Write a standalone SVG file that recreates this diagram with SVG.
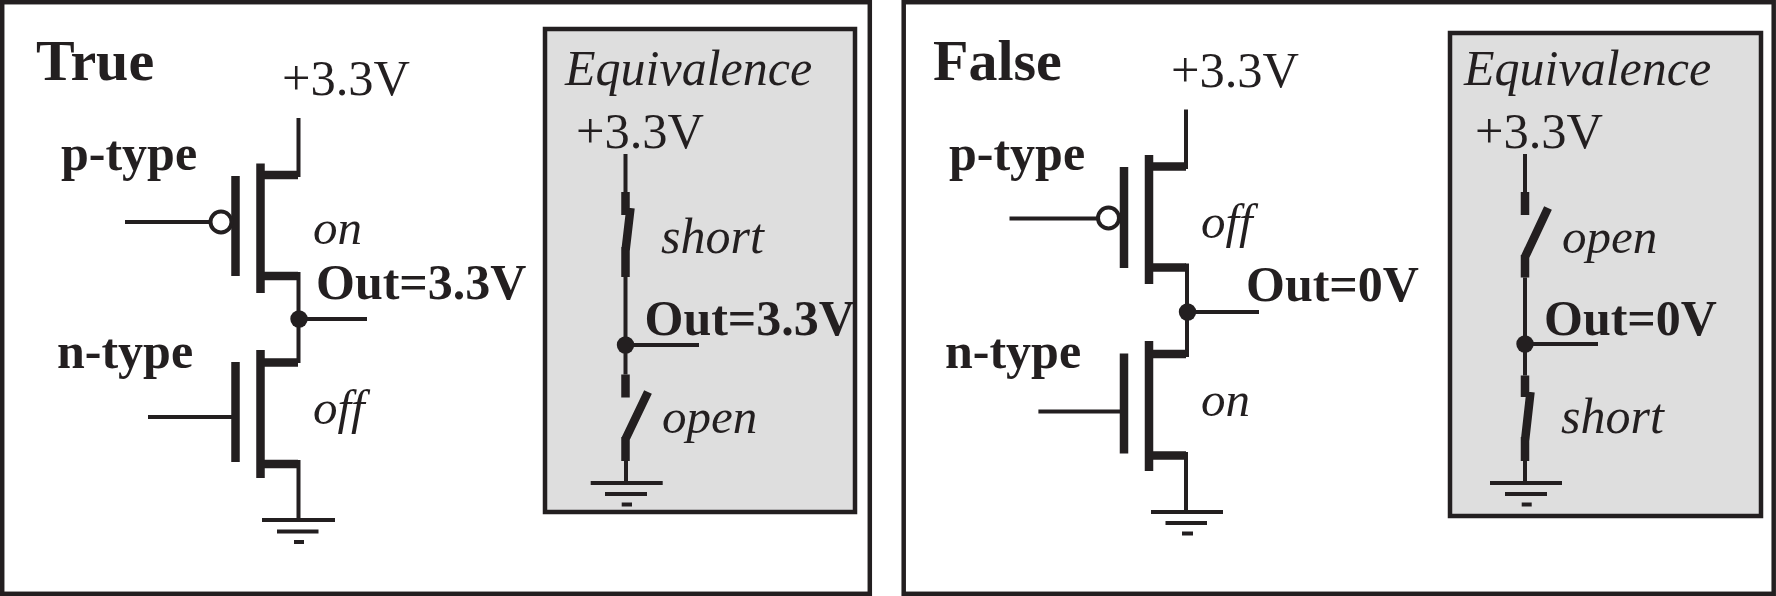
<svg xmlns="http://www.w3.org/2000/svg" width="1776" height="596" viewBox="0 0 1776 596">
<style>
.frame{fill:#fff;stroke:#231f20;stroke-width:4.5}
.box{fill:#dedede;stroke:#231f20;stroke-width:4.5}
.w{stroke:#231f20;stroke-width:4;fill:none}
.t{stroke:#231f20;stroke-width:8.5;fill:none}
.b{fill:#fff;stroke:#231f20;stroke-width:4}
.d{fill:#231f20}
text{fill:#231f20;font-family:"Liberation Serif","Times New Roman",serif}
.h{font-size:58px;font-weight:bold}
.l{font-size:50px;font-weight:bold}
.v{font-size:50.500px}
.i{font-size:49px;font-style:italic}
.e{font-size:50px;font-style:italic}
</style>
<g id="panel-true"><rect class="frame" x="2.2" y="2.2" width="867.6" height="591.6"/><text class="h" x="36" y="80">True</text></g>
<g id="panel-false"><rect class="frame" x="903.7" y="2.2" width="870" height="591.6"/><text class="h" x="933" y="80">False</text></g>
<g id="box-true"><rect class="box" x="545" y="29" width="310" height="483"/><text class="e" x="565" y="85">Equivalence</text></g>
<g id="box-false"><rect class="box" x="1450" y="33" width="311" height="483"/><text class="e" x="1464" y="85">Equivalence</text></g>

<g id="connectors">
<path class="w" d="M298.500 118V177M298.500 272V363M298.500 460V519M299 319H367M125 222H209M148 417H232"/>
<path class="w" d="M1186 109.500V169M1187 263.500V357M1186 452V511M1187.500 312H1259M1009.500 218.500H1097M1038.400 411.400H1120"/>
<path class="w" d="M625.500 154V192M625.500 277V374.500M626 461V482M625.500 345H699"/>
<path class="w" d="M1525 154V192M1525 277.600V375.600M1525 461V482M1525 344H1598"/>
</g>

<g id="pmos-true"><path class="t" d="M235.500 176V276M260.500 163.500V293M264 175H298M264 276H298"/><circle class="b" cx="221" cy="222" r="10.500"/><text class="l" x="61" y="170">p-type</text><text class="i" x="313" y="244">on</text></g>
<g id="nmos-true"><path class="t" d="M235.500 362V462M260.500 350V478M264 362.500H298M264 464H298"/><text class="l" x="57" y="367.500">n-type</text><text class="i" x="313" y="424">off</text></g>
<g id="out-true"><circle class="d" cx="299" cy="319" r="8.700"/><text class="l" x="316" y="299">Out=3.3V</text></g>
<g id="vdd-true"><text class="v" x="282" y="95">+3.3V</text></g>
<g id="gnd-true"><path class="w" d="M262 520H335M277 531.500H318.500M294 542H304"/></g>

<g id="pmos-false"><path class="t" d="M1124 167V268M1149 155V284M1153 166.500H1186M1153 267.500H1186"/><circle class="b" cx="1108.500" cy="218" r="10.500"/><text class="l" x="949" y="170">p-type</text><text class="i" x="1201" y="238">off</text></g>
<g id="nmos-false"><path class="t" d="M1124 353.600V453.600M1149 341V471M1153 354H1186M1153 455.500H1186"/><text class="l" x="945" y="367.500">n-type</text><text class="i" x="1201" y="416">on</text></g>
<g id="out-false"><circle class="d" cx="1187.500" cy="312" r="8.700"/><text class="l" x="1246" y="301">Out=0V</text></g>
<g id="vdd-false"><text class="v" x="1171" y="87">+3.3V</text></g>
<g id="gnd-false"><path class="w" d="M1151 512H1223M1165.500 523H1207M1182 533.500H1193"/></g>

<g id="eq-true-vdd"><text class="v" x="576" y="147.500">+3.3V</text></g>
<g id="eq-true-short"><path class="t" d="M625.500 192V215M625.500 247V277M625.500 251L630.500 208"/><text class="e" x="661" y="253">short</text></g>
<g id="eq-true-out"><circle class="d" cx="625.500" cy="345" r="8.700"/><text class="l" x="644.500" y="335">Out=3.3V</text></g>
<g id="eq-true-open"><path class="t" d="M625.500 374.500V397.500M625.500 437V461M625.500 439L648 392"/><text class="i" x="662" y="432.500">open</text></g>
<g id="eq-true-gnd"><path class="w" d="M590.700 483H662.700M605 494H647M621.700 504.500H632"/></g>

<g id="eq-false-vdd"><text class="v" x="1475" y="147.500">+3.3V</text></g>
<g id="eq-false-open"><path class="t" d="M1525 192V215M1525 255V277.600M1525 257L1548 208"/><text class="i" x="1562" y="253">open</text></g>
<g id="eq-false-out"><circle class="d" cx="1525" cy="344" r="8.700"/><text class="l" x="1544" y="335">Out=0V</text></g>
<g id="eq-false-short"><path class="t" d="M1525 375.600V397M1525 437V461M1525 441L1530.500 392"/><text class="e" x="1561" y="432.500">short</text></g>
<g id="eq-false-gnd"><path class="w" d="M1490 483H1562M1505 494H1547M1521.700 504.500H1531.700"/></g>
</svg>
